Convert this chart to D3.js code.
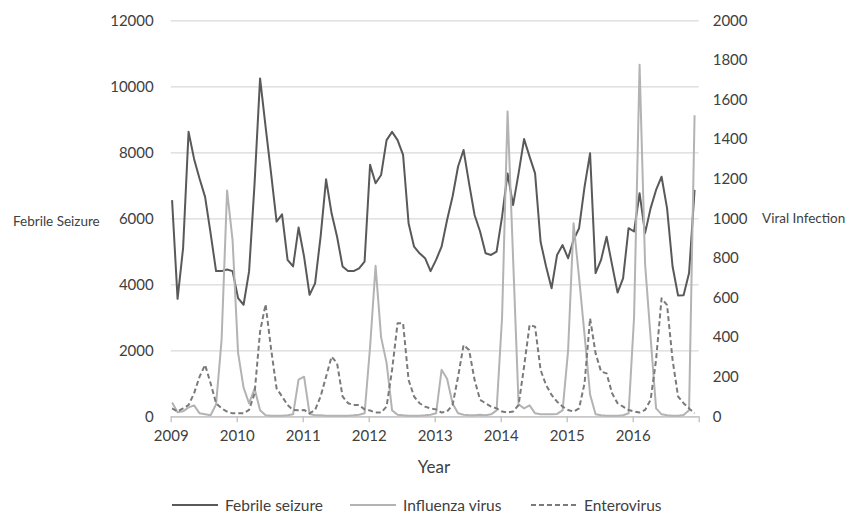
<!DOCTYPE html>
<html>
<head>
<meta charset="utf-8">
<script src="https://cdn.jsdelivr.net/npm/d3@7"></script>
<style>
body { margin: 0; background: #fff; }
text { font-family: Lato, "Open Sans", sans-serif; fill: #404040; }
</style>
</head>
<body>
<svg id="chart" width="846" height="513"></svg>
<script>
var years = ["2009", "2010", "2011", "2012", "2013", "2014", "2015", "2016"];

// monthly counts, Jan 2009 .. Dec 2016
var febrile = [
    6550, 3560, 5090, 8620, 7800, 7200, 6650, 5550, 4400, 4400, 4450, 4400,
    3580, 3380, 4390, 7060, 10240, 8780, 7360, 5900, 6120, 4740, 4540, 5720,
    4840, 3680, 4030, 5440, 7180, 6150, 5440, 4540, 4400, 4400, 4480, 4690,
    7620, 7060, 7310, 8370, 8620, 8370, 7920, 5850, 5140, 4940, 4790, 4400,
    4740, 5140, 5950, 6660, 7570, 8070, 7060, 6100, 5600, 4940, 4890, 4990,
    6050, 7360, 6400, 7360, 8400, 7870, 7360, 5290, 4540, 3880, 4890, 5190,
    4790, 5350, 5700, 6960, 7970, 4340, 4740, 5440, 4590, 3750, 4180, 5700,
    5600, 6760, 5550, 6300, 6860, 7260, 6300, 4540, 3660, 3670, 4340, 6860
];
var influenza = [
    70, 20, 25, 45, 55, 15, 10, 5, 60, 385, 1140, 890,
    320, 145, 65, 140, 30, 5, 3, 3, 3, 5, 10, 185,
    200, 12, 5, 5, 3, 3, 3, 3, 3, 5, 8, 15,
    350, 760, 400, 270, 30, 8, 5, 3, 3, 3, 5, 8,
    15, 235, 190, 65, 15, 8, 5, 5, 8, 5, 10, 30,
    500, 1540, 800, 60, 40, 55, 15, 10, 10, 10, 12, 30,
    330, 975, 700, 410, 110, 10, 5, 3, 3, 3, 5, 15,
    500, 1775, 770, 400, 40, 10, 5, 3, 3, 6, 30, 1520
];
var enterovirus = [
    40, 24, 40, 57, 116, 200, 260, 167, 66, 40, 24, 15,
    15, 15, 32, 116, 428, 566, 340, 141, 100, 57, 32, 30,
    32, 15, 32, 100, 200, 301, 268, 100, 66, 57, 57, 35,
    29, 19, 19, 49, 234, 470, 470, 184, 100, 66, 49, 40,
    35, 19, 24, 57, 200, 360, 335, 184, 83, 66, 49, 40,
    24, 19, 24, 57, 251, 461, 453, 234, 158, 108, 74, 49,
    32, 24, 40, 167, 495, 318, 226, 217, 116, 66, 49, 32,
    24, 19, 32, 83, 285, 596, 562, 285, 100, 66, 40, 15
];
var leftTicks = [0, 2000, 4000, 6000, 8000, 10000, 12000];
var rightTicks = [0, 200, 400, 600, 800, 1000, 1200, 1400, 1600, 1800, 2000];

var svg = d3.select("#chart");
var plotLeft = 170.7, plotRight = 698.7, plotTop = 20.3, plotBottom = 416.3;

var x = d3.scaleLinear().domain([0, years.length * 12]).range([plotLeft, plotRight]);
var yLeft = d3.scaleLinear().domain([0, 12000]).range([plotBottom, plotTop]);
var yRight = d3.scaleLinear().domain([0, 2000]).range([plotBottom, plotTop]);

createAxes();
createLine(febrile, yLeft, "#595959", null);
createLine(influenza, yRight, "#b3b3b3", null);
createLine(enterovirus, yRight, "#7a7a7a", "5,3");
createLegend();

function createAxes() {
    // grid + left labels
    var gLeft = svg.append("g")
        .attr("transform", "translate(" + plotLeft + ",0)")
        .call(d3.axisLeft(yLeft).tickValues(leftTicks).tickFormat(d3.format("d"))
            .tickSize(-(plotRight - plotLeft)).tickPadding(17));
    gLeft.select(".domain").remove();
    gLeft.selectAll("line").attr("stroke", "#d9d9d9").attr("stroke-width", 1.3);
    gLeft.selectAll("text").style("font-size", "15px").attr("fill", "#404040");

    var gRight = svg.append("g")
        .attr("transform", "translate(" + plotRight + ",0)")
        .call(d3.axisRight(yRight).tickValues(rightTicks).tickFormat(d3.format("d"))
            .tickSize(0).tickPadding(14));
    gRight.select(".domain").remove();
    gRight.selectAll("text").style("font-size", "15px").attr("fill", "#404040");

    // year axis: ticks at year boundaries, label under each
    var tickPos = d3.range(years.length + 1).map(function (k) { return k * 12; });
    var gBottom = svg.append("g")
        .attr("transform", "translate(0," + plotBottom + ")")
        .call(d3.axisBottom(x).tickValues(tickPos).tickSize(6).tickSizeOuter(0).tickPadding(8)
            .tickFormat(function (d) { return years[d / 12] || ""; }));
    gBottom.select(".domain").attr("stroke", "#bfbfbf").attr("stroke-width", 1.3);
    gBottom.selectAll("line").attr("stroke", "#bfbfbf").attr("stroke-width", 1.3);
    gBottom.selectAll("text").style("font-size", "15px").attr("fill", "#404040");

    svg.append("text").attr("x", 434).attr("y", 473)
        .attr("text-anchor", "middle").style("font-size", "17px").text("Year");
    svg.append("text").attr("x", 13).attr("y", 226)
        .style("font-size", "13.5px").text("Febrile Seizure");
    svg.append("text").attr("x", 762).attr("y", 223)
        .style("font-size", "13.5px").text("Viral Infection");
}

function createLine(values, yScale, color, dash) {
    var line = d3.line()
        .x(function (d, i) { return x(i + 0.25); })
        .y(function (d) { return yScale(d); });

    svg.append("path")
        .datum(values)
        .attr("d", line)
        .attr("fill", "none")
        .attr("stroke", color)
        .attr("stroke-width", 2)
        .attr("stroke-linejoin", "round")
        .attr("stroke-dasharray", dash);
}

function createLegend() {
    var items = [
        { name: "Febrile seizure", color: "#595959", dash: null, x: 172 },
        { name: "Influenza virus", color: "#b3b3b3", dash: null, x: 350 },
        { name: "Enterovirus", color: "#7a7a7a", dash: "5,3", x: 531 }
    ];
    var g = svg.append("g").selectAll("g").data(items).enter().append("g")
        .attr("transform", function (d) { return "translate(" + d.x + ",505)"; });
    g.append("line").attr("x1", 0).attr("x2", 46)
        .attr("stroke", function (d) { return d.color; })
        .attr("stroke-width", 2)
        .attr("stroke-dasharray", function (d) { return d.dash; });
    g.append("text").attr("x", 53).attr("y", 5.5)
        .style("font-size", "15.5px")
        .text(function (d) { return d.name; });
}
</script>
</body>
</html>
